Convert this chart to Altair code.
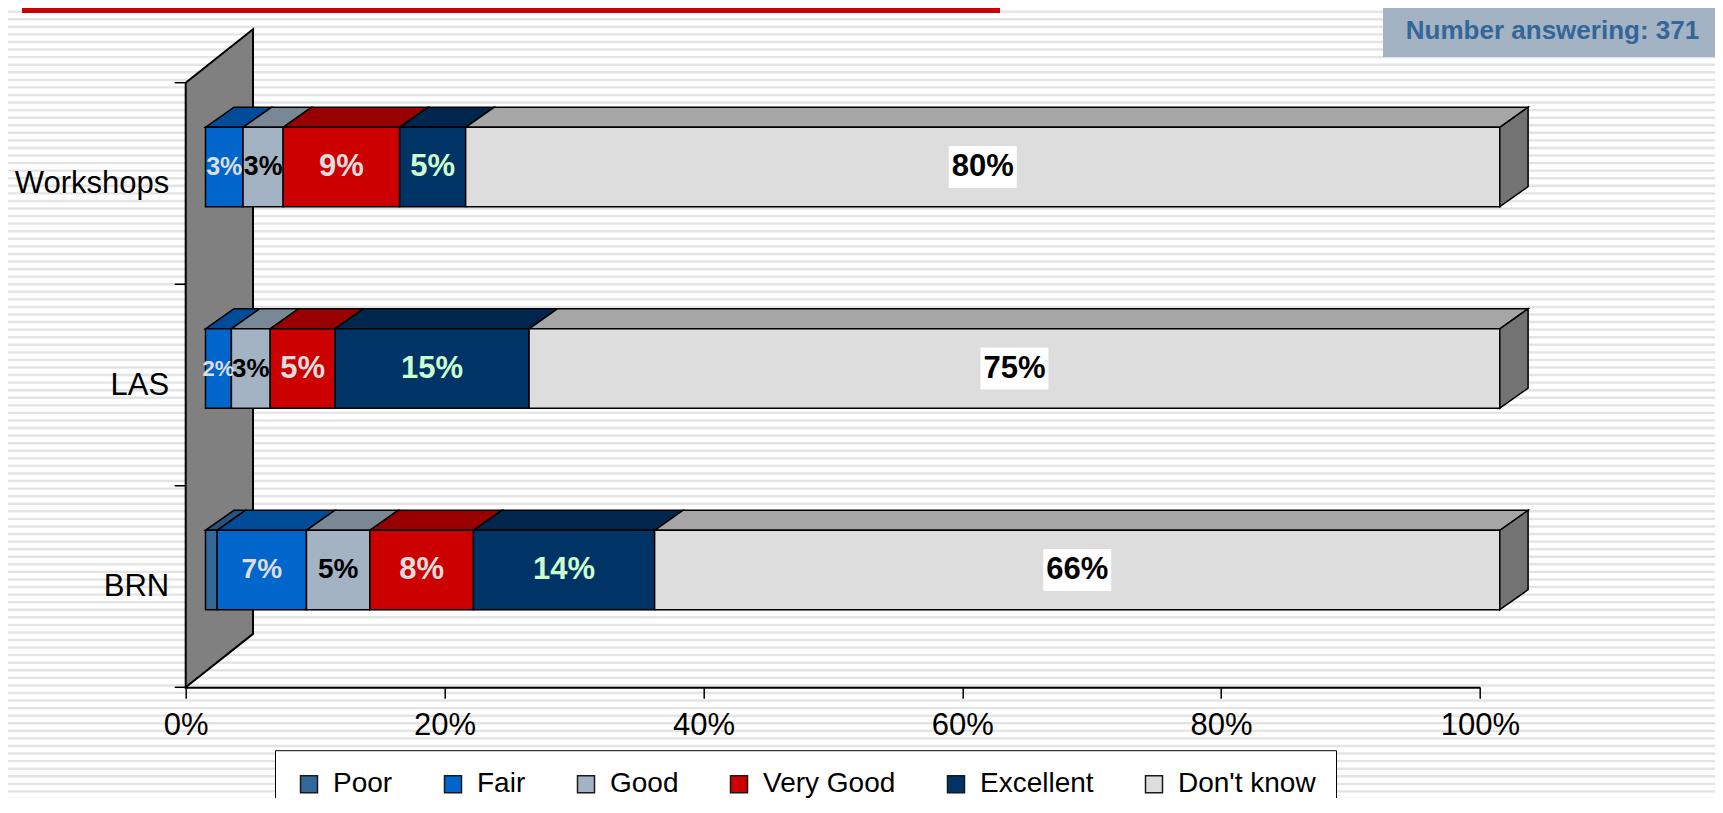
import json
import altair as alt
import pandas as pd

# ---------------- data ----------------
categories = ["Workshops", "LAS", "BRN"]
series = ["Poor", "Fair", "Good", "Very Good", "Excellent", "Don't know"]
workshops_pct = [0.0, 2.9, 3.1, 9.0, 5.1, 79.9]
las_pct = [0.0, 2.0, 3.0, 5.0, 15.0, 75.0]
brn_pct = [0.9, 6.9, 4.9, 8.0, 14.0, 65.3]
workshops_labels = ["", "3%", "3%", "9%", "5%", "80%"]
las_labels = ["", "2%", "3%", "5%", "15%", "75%"]
brn_labels = ["", "7%", "5%", "8%", "14%", "66%"]
x_ticks = [0, 20, 40, 60, 80, 100]
number_answering = 371

# ---------------- styles ----------------
FONT = "Liberation Sans"
FRONT = ["#336699", "#0066cc", "#a3b3c4", "#cc0000", "#003366", "#dddddd"]
TOP = ["#29527a", "#004c99", "#7a8794", "#990000", "#00264d", "#a6a6a6"]
LABEL_COLORS = ["#dddddd", "#dddddd", "#000000", "#dddddd", "#ccffcc", "#000000"]
LABEL_MAX_SIZE = [28, 28, 28, 31, 31, 31]
SIDE = "#737373"
WALL = "#808080"
STRIPE = "#e4e4e4"

# ---------------- layout (px) ----------------
W, H = 1294.3, 604.6
PAD_L, PAD_T, PAD_R, PAD_B = 177.7, 74.7, 235.0, 110.7
KX = W / 100.0
n = len(categories)
KY = H / n
FX, FY = 19.8 / KX, 16.5 / KY      # front face offset into depth
BDX, BDY = 28.3 / KX, 20.0 / KY    # bar depth
BH = 79.4 / KY                     # bar thickness
WDX, WDY = 67.3 / KX, 53.4 / KY    # wall depth
PLOT_BOTTOM_PAGE = 8 + PAD_T + H

pct_by_cat = [workshops_pct, las_pct, brn_pct]
lbl_by_cat = [workshops_labels, las_labels, brn_labels]

front_rows, top_rows, side_rows, label_rows, bg_rows = [], [], [], [], []
for ci, cat in enumerate(categories):
    yc = (n - ci - 0.5) + FY
    y0, y1 = yc - BH / 2, yc + BH / 2
    cum = 0.0
    vals = pct_by_cat[ci]
    last = max(i for i, v in enumerate(vals) if v > 0)
    for si, s in enumerate(series):
        v = vals[si]
        s0, s1 = cum, cum + v
        cum = s1
        if v <= 0:
            continue
        x0, x1 = s0 + FX, s1 + FX
        front_rows.append(dict(cat=cat, series=s, x0=x0, x1=x1, y0=y0, y1=y1))
        face = f"{cat}-{s}"
        top_rows.append(dict(face=face, y=y1, xa=x0, xb=x1, col=TOP[si]))
        top_rows.append(dict(face=face, y=y1 + BDY, xa=x0 + BDX, xb=x1 + BDX, col=TOP[si]))
        if si == last:
            side_rows.append(dict(face=face, x=x1, ya=y0, yb=y1))
            side_rows.append(dict(face=face, x=x1 + BDX, ya=y0 + BDY, yb=y1 + BDY))
        txt = lbl_by_cat[ci][si]
        if txt:
            xm = (x0 + x1) / 2
            size = min(LABEL_MAX_SIZE[si], max(22.0, v * KX / 1.5))
            label_rows.append(dict(x=xm, y=yc, text=txt, col=LABEL_COLORS[si], size=size))
            if si == len(series) - 1:
                bg_rows.append(dict(bx0=xm - 34 / KX, bx1=xm + 34 / KX,
                                    by0=yc - 21 / KY, by1=yc + 21 / KY))

front_df = pd.DataFrame(front_rows)
top_df = pd.DataFrame(top_rows)
side_df = pd.DataFrame(side_rows)
label_df = pd.DataFrame(label_rows)
bg_df = pd.DataFrame(bg_rows)
wall_df = pd.DataFrame([dict(x=0.0, ya=0.0, yb=float(n)),
                        dict(x=WDX, ya=WDY, yb=n + WDY)])
ticks_df = pd.DataFrame({"y": list(range(n + 1))})
stripes_df = pd.DataFrame({"y": [(PLOT_BOTTOM_PAGE - (11.7 + 7.57 * k)) / KY for k in range(108)]})
one = pd.DataFrame({"a": [0]})

XS = alt.Scale(domain=[0, 100], nice=False, zero=False)
YS = alt.Scale(domain=[0, n], nice=False, zero=False)

x_axis = alt.Axis(values=x_ticks, labelExpr="datum.value + '%'", title=None, grid=False,
                  tickSize=11, tickColor="black", tickWidth=1.5, domainColor="black",
                  domainWidth=2, labelFontSize=31, labelFont=FONT, labelColor="black",
                  labelPadding=12, labelFlush=False, labelOverlap=False, zindex=1)
y_axis = alt.Axis(values=[i + 0.5 for i in range(n)],
                  labelExpr=f"{json.dumps(categories)}[{n - 1} - floor(datum.value)]",
                  title=None, grid=False, ticks=False, domain=False, labelFontSize=31,
                  labelFont=FONT, labelColor="black", labelPadding=17, labelFlush=False,
                  labelOverlap=False, zindex=1)
legend = alt.Legend(title=None, orient="none", legendX=89.3, legendY=667.5,
                    direction="horizontal", columns=6, symbolType="square",
                    symbolSize=289, symbolStrokeColor="#1a1a1a", symbolStrokeWidth=1.5,
                    symbolOpacity=1, labelFontSize=28, labelFont=FONT, labelColor="black",
                    labelOffset=10, columnPadding=46, padding=20, fillColor="white",
                    strokeColor="black")


def X(field):
    return alt.X(field, scale=XS, axis=x_axis)


def Y(field):
    return alt.Y(field, scale=YS, axis=y_axis)


stripes = alt.Chart(stripes_df).mark_rule(color=STRIPE, strokeWidth=2.4).encode(
    y=Y("y:Q"), x=alt.value(-PAD_L), x2=alt.value(W + PAD_R))

header = alt.Chart(one).mark_rect(color="#cc0000").encode(
    x=alt.value(22 - 185.7), x2=alt.value(1000 - 185.7),
    y=alt.value(-PAD_T), y2=alt.value(-PAD_T + 5))

num_box = alt.Chart(one).mark_rect(color="#a3b3c4").encode(
    x=alt.value(1383 - 185.7), x2=alt.value(1722 - 185.7),
    y=alt.value(5 - 82.7), y2=alt.value(57 - 82.7))
num_text = alt.Chart(one).mark_text(font=FONT, fontSize=26, fontWeight="bold", color="#336699",
                                    align="center", baseline="middle").encode(
    x=alt.value((1383 + 1722) / 2 - 185.7), y=alt.value(31 - 82.7),
    text=alt.value(f"Number answering: {number_answering}"))

wall = alt.Chart(wall_df).mark_area(orient="vertical", fill=WALL, stroke="black",
                                    strokeWidth=2, opacity=1).encode(
    x=X("x:Q"), y=Y("ya:Q"), y2="yb:Q")

yticks = alt.Chart(ticks_df).mark_rule(color="black", strokeWidth=1.5).encode(
    y=Y("y:Q"), x=alt.value(-11), x2=alt.value(0))

tops = alt.Chart(top_df).mark_area(orient="horizontal", stroke="black", strokeWidth=1.5,
                                   opacity=1).encode(
    y=Y("y:Q"), x=X("xa:Q"), x2="xb:Q",
    fill=alt.Fill("col:N", scale=None), detail="face:N")

fronts = alt.Chart(front_df).mark_rect(stroke="black", strokeWidth=1.5, opacity=1).encode(
    x=X("x0:Q"), x2="x1:Q", y=Y("y0:Q"), y2="y1:Q",
    color=alt.Color("series:N", scale=alt.Scale(domain=series, range=FRONT), legend=legend))

sides = alt.Chart(side_df).mark_area(orient="vertical", fill=SIDE, stroke="black",
                                     strokeWidth=1.5, opacity=1).encode(
    x=X("x:Q"), y=Y("ya:Q"), y2="yb:Q", detail="face:N")

label_bg = alt.Chart(bg_df).mark_rect(color="white").encode(
    x=X("bx0:Q"), x2="bx1:Q", y=Y("by0:Q"), y2="by1:Q")

labels = alt.Chart(label_df).mark_text(font=FONT, fontWeight="bold",
                                       align="center", baseline="middle").encode(
    x=X("x:Q"), y=Y("y:Q"), text="text:N",
    fill=alt.Fill("col:N", scale=None), size=alt.Size("size:Q", scale=None))

chart = alt.layer(
    stripes, header, num_box, num_text, wall, yticks, tops, fronts, sides, label_bg, labels
).resolve_scale(color="independent", fill="independent").properties(
    width=W, height=H,
    padding={"left": PAD_L, "top": PAD_T, "right": PAD_R, "bottom": PAD_B},
    autosize=alt.AutoSizeParams(type="none"),
).configure(background="white", font=FONT, view=alt.ViewConfig(stroke=None))

chart.save("out.html", embed_options={"renderer": "svg", "actions": False})
